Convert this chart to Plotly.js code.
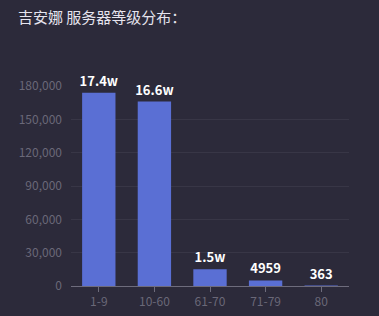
<!DOCTYPE html>
<html>
<head>
<meta charset="utf-8">
<script src="https://cdn.plot.ly/plotly-3.0.1.min.js"></script>
<style>
  html, body { margin: 0; padding: 0; background: #2c2a3a; }
  #chart { width: 379px; height: 316px; }
</style>
</head>
<body>
<div id="chart"></div>
<script>
// Level brackets and player counts per bracket
const levels = ['1-9', '10-60', '61-70', '71-79', '80'];
const players = [174000, 166000, 15000, 4959, 363];
const valueLabels = ['17.4w', '16.6w', '1.5w', '4959', '363'];
const yTicks = [0, 30000, 60000, 90000, 120000, 150000, 180000];

const font = '"Noto Sans CJK SC", "Noto Sans", sans-serif';

const trace = {
  type: 'bar',
  x: levels,
  y: players,
  text: valueLabels,
  textposition: 'outside',
  constraintext: 'none',
  cliponaxis: false,
  textfont: { family: font, size: 13, color: '#ffffff', weight: 'bold' },
  marker: { color: '#5a6fd4' },
  hoverinfo: 'none'
};

const layout = {
  width: 379,
  height: 316,
  margin: { l: 71, r: 30, t: 86, b: 30 },
  paper_bgcolor: '#2c2a3a',
  plot_bgcolor: '#2c2a3a',
  bargap: 0.4,
  showlegend: false,
  title: {
    text: '吉安娜 服务器等级分布：',
    x: 18 / 379, xanchor: 'left',
    y: 1 - 18 / 316, yanchor: 'middle',
    font: { family: font, size: 15, color: '#e6e4ee' }
  },
  xaxis: {
    type: 'category',
    showline: true, linecolor: '#6e6c7c', linewidth: 1,
    ticks: 'outside', ticklen: 5, tickcolor: '#6e6c7c',
    tickfont: { family: font, size: 12, color: '#6a6878' },
    showgrid: false, zeroline: false
  },
  yaxis: {
    range: [0, 180000],
    tickvals: yTicks,
    ticktext: yTicks.map(v => v.toLocaleString('en-US')),
    tickfont: { family: font, size: 12, color: '#6a6878' },
    ticklabelstandoff: 8,
    showgrid: true, gridcolor: '#383646', gridwidth: 1,
    zeroline: false, showline: false
  }
};

Plotly.newPlot('chart', [trace], layout, { displayModeBar: false, staticPlot: true });
</script>
</body>
</html>
